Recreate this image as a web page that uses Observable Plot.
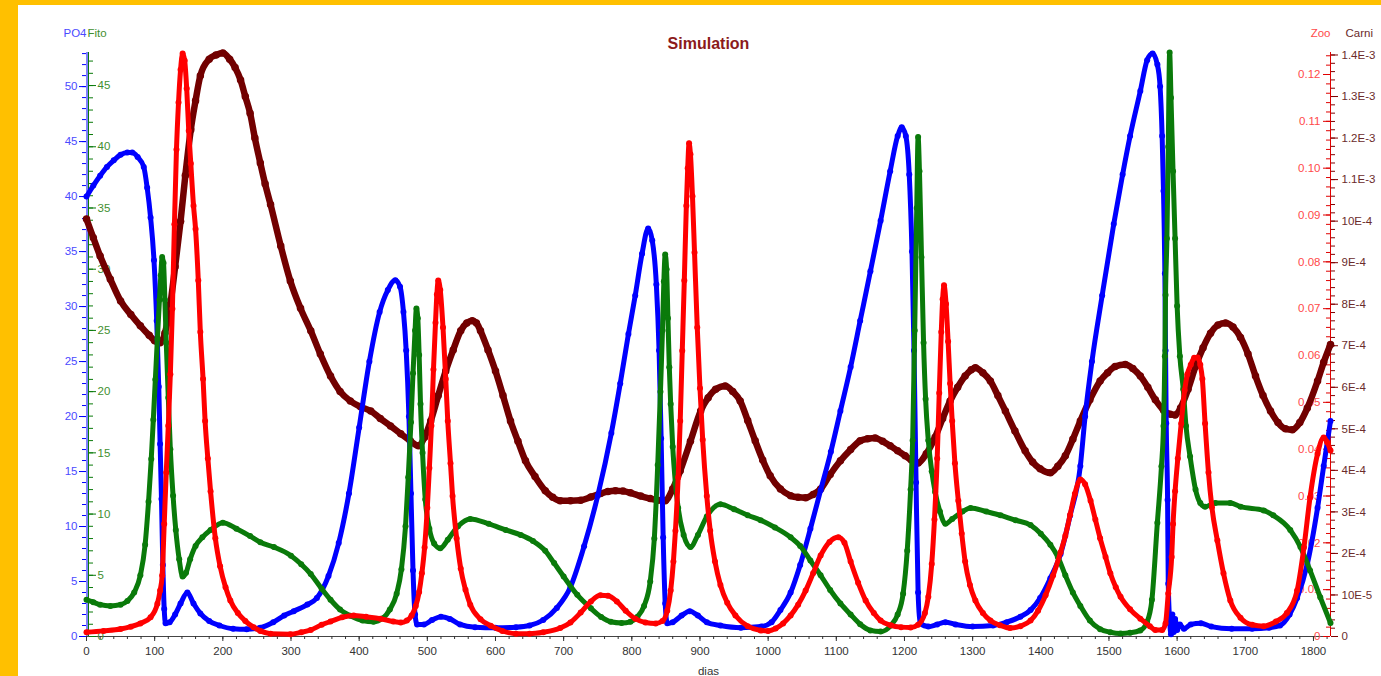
<!DOCTYPE html>
<html><head><meta charset="utf-8">
<script src="https://cdn.jsdelivr.net/npm/d3@7"></script>
<script src="https://cdn.jsdelivr.net/npm/@observablehq/plot@0.6"></script>
<style>
html,body{margin:0;padding:0;background:#FFC000;width:1381px;height:676px;overflow:hidden}
#panel{position:absolute;left:18px;top:5px;width:1363px;height:671px;background:#fff}
</style></head><body><div id="panel"></div>
<script>
// ---- data: [day, value] ----
const po4 = [[0,40.0],[10,41.0],[20,41.9],[30,42.7],[40,43.3],[50,43.8],[60,44.0],[67,44.0],[75,43.6],[84,42.7],[89,40.8],[94,38.1],[99,34.2],[103,28.7],[106,22.7],[108,17.5],[110,12.5],[112,6.5],[114,2.5],[116,1.2],[122,1.3],[130,2.0],[138,3.0],[148,4.0],[157,3.0],[167,2.1],[180,1.4],[195,1.0],[215,0.7],[235,0.65],[255,0.8],[274,1.3],[290,1.9],[304,2.3],[324,2.9],[338,3.5],[355,5.5],[370,8.5],[385,13],[400,19],[415,25],[430,29.5],[442,31.5],[453,32.4],[460,31.8],[465,29.5],[469,26],[473,20],[476,13],[479,6],[482,2],[485,1.1],[495,1.1],[507,1.5],[520,1.8],[533,1.6],[548,1.1],[570,0.85],[600,0.8],[630,0.85],[650,1.0],[670,1.5],[690,2.6],[710,4.5],[730,8.2],[750,12.8],[770,18.5],[783,23],[795,27.5],[805,31],[815,34.8],[824,37.1],[830,36],[836,32],[840,26],[843,18],[846,9],[849,3],[852,1.2],[860,1.3],[873,1.9],[885,2.3],[897,1.9],[910,1.3],[930,1.0],[960,0.8],[990,0.9],[1005,1.3],[1018,2.4],[1033,4.0],[1047,6.5],[1062,9.8],[1077,13.3],[1092,16.8],[1106,20.5],[1121,24.5],[1135,28.7],[1150,33.2],[1165,37.8],[1179,42.3],[1190,45.5],[1196,46.3],[1202,45.5],[1207,42],[1211,35],[1214,26],[1217,14],[1220,4],[1223,1.2],[1235,0.9],[1248,1.1],[1260,1.3],[1275,1.1],[1300,0.9],[1330,1.0],[1350,1.3],[1370,1.8],[1385,2.4],[1399,3.5],[1414,5.3],[1429,7.5],[1443,11.0],[1458,15.5],[1465,20.0],[1475,25.0],[1490,31.0],[1507,37.5],[1520,42.0],[1531,45.5],[1546,49.6],[1556,52.4],[1564,53.0],[1571,52.0],[1575,50.0],[1578,45.5],[1580,40.5],[1582,33],[1583,26],[1584,19.4],[1586,12.4],[1587,4.8],[1589,1.5],[1591,0.2],[1593,2.0],[1595,0.4],[1597,1.6],[1600,0.6],[1604,1.1],[1610,0.7],[1620,1.1],[1635,1.2],[1650,0.9],[1680,0.7],[1710,0.7],[1735,0.8],[1751,1.0],[1765,2.0],[1776,3.5],[1791,6.6],[1806,11.7],[1815,15.5],[1825,19.6]];

const fito = [[0,3.0],[10,2.8],[20,2.6],[35,2.5],[50,2.6],[60,2.9],[70,3.6],[79,5.0],[86,7.5],[91,11],[95,14.5],[98,17.7],[101,21],[104,24.3],[107,27.5],[109,29.5],[111,31.0],[113,30.5],[115,27.5],[117,24],[120,19.5],[123,15.3],[127,11.5],[131,8.7],[136,6.3],[141,4.9],[146,5.2],[152,6.3],[160,7.4],[170,8.1],[182,8.7],[200,9.3],[220,8.8],[240,8.2],[255,7.7],[275,7.3],[300,6.6],[315,5.9],[329,5.1],[345,3.9],[358,3.0],[372,2.2],[387,1.7],[405,1.3],[421,1.2],[435,1.5],[445,2.2],[455,3.5],[462,5.5],[468,9],[472,13],[476,17.5],[479,21.5],[482,25],[484,26.8],[486,26],[488,23],[490,19],[493,15],[497,11.2],[503,8.8],[510,7.6],[519,7.2],[530,7.9],[545,9.0],[563,9.6],[590,9.2],[615,8.7],[637,8.3],[655,7.8],[673,7.0],[686,6.0],[700,4.9],[720,3.4],[740,2.3],[755,1.6],[769,1.2],[785,1.1],[798,1.2],[808,1.6],[818,2.5],[827,4.5],[833,8],[838,14],[842,20],[845,25],[847,29],[849,31.2],[851,30],[853,26],[855,22],[857,19],[860,15.5],[864,12.5],[868,10.5],[876,8.3],[886,7.3],[897,8.3],[910,9.8],[930,10.8],[950,10.4],[970,9.9],[989,9.5],[1010,8.9],[1033,8.1],[1047,7.4],[1062,6.2],[1077,5.0],[1091,3.8],[1106,2.7],[1121,1.8],[1135,1.0],[1150,0.5],[1165,0.4],[1180,0.9],[1190,1.8],[1198,3.5],[1204,7],[1209,12],[1212,16],[1215,25],[1218,35],[1220,40.8],[1222,38],[1225,31],[1228,24],[1231,19.4],[1235,16],[1240,13.5],[1245,11.8],[1252,10.2],[1260,9.2],[1270,9.6],[1285,10.2],[1297,10.5],[1320,10.2],[1341,9.9],[1363,9.5],[1385,9.1],[1400,8.4],[1414,7.5],[1425,6.5],[1436,5.0],[1447,3.6],[1458,2.5],[1472,1.3],[1487,0.6],[1502,0.35],[1517,0.25],[1531,0.3],[1546,0.5],[1556,1.2],[1563,3.0],[1571,9.3],[1577,13.9],[1580,17.2],[1582,22.9],[1583,27.9],[1585,32.5],[1587,40],[1589,47.7],[1591,44],[1594,38],[1597,32.5],[1600,27],[1604,22.9],[1609,20.2],[1613,17.2],[1619,14.7],[1627,12.0],[1634,10.9],[1641,10.6],[1656,10.9],[1678,10.9],[1693,10.6],[1727,10.3],[1741,9.9],[1766,8.7],[1781,7.3],[1795,5.4],[1810,3.2],[1825,1.1]];

const zoo = [[0,0.0009],[25,0.0012],[50,0.0016],[65,0.0021],[79,0.0028],[94,0.0041],[104,0.007],[108,0.0098],[111,0.013],[114,0.024],[117,0.035],[120,0.045],[123,0.056],[126,0.07],[129,0.088],[132,0.104],[135,0.114],[138,0.121],[141,0.1245],[144,0.123],[147,0.117],[150,0.108],[153,0.101],[157,0.092],[160,0.087],[164,0.076],[167,0.065],[171,0.055],[174,0.046],[178,0.038],[182,0.031],[189,0.021],[196,0.015],[204,0.0105],[211,0.0077],[222,0.005],[233,0.0033],[245,0.002],[255,0.0012],[270,0.0006],[299,0.0005],[315,0.0009],[329,0.0014],[345,0.0025],[358,0.0032],[375,0.0041],[392,0.0045],[410,0.0042],[431,0.0038],[450,0.0032],[461,0.003],[470,0.0034],[477,0.0045],[483,0.0065],[488,0.0095],[492,0.0135],[496,0.019],[500,0.0275],[503,0.036],[506,0.045],[509,0.057],[512,0.067],[514,0.073],[516,0.076],[519,0.074],[523,0.066],[527,0.055],[530,0.046],[534,0.037],[537,0.03],[543,0.021],[549,0.0145],[556,0.01],[563,0.0068],[578,0.0037],[593,0.0023],[610,0.0012],[630,0.0006],[650,0.0006],[670,0.0009],[695,0.0018],[710,0.003],[725,0.0051],[740,0.0075],[754,0.0088],[765,0.0087],[778,0.0075],[791,0.0055],[805,0.0038],[820,0.003],[835,0.0028],[845,0.0033],[852,0.0055],[857,0.0098],[861,0.016],[864,0.0226],[868,0.034],[871,0.046],[874,0.061],[877,0.076],[880,0.092],[882,0.1],[884,0.1053],[886,0.103],[889,0.094],[892,0.082],[896,0.066],[900,0.053],[904,0.042],[910,0.03],[915,0.0226],[922,0.016],[930,0.011],[940,0.0072],[952,0.0045],[970,0.0022],[989,0.0013],[1000,0.0012],[1011,0.0017],[1022,0.0028],[1033,0.0045],[1044,0.0068],[1055,0.0098],[1066,0.0135],[1077,0.0173],[1090,0.0202],[1103,0.0212],[1112,0.02],[1121,0.016],[1132,0.0115],[1143,0.0077],[1155,0.005],[1165,0.0034],[1180,0.0024],[1195,0.002],[1209,0.0019],[1220,0.0025],[1230,0.005],[1235,0.0085],[1240,0.0155],[1244,0.025],[1248,0.038],[1251,0.052],[1254,0.065],[1256,0.072],[1258,0.075],[1261,0.071],[1264,0.063],[1267,0.054],[1270,0.046],[1274,0.037],[1279,0.029],[1284,0.022],[1289,0.016],[1296,0.011],[1304,0.0077],[1315,0.005],[1326,0.0034],[1340,0.0024],[1355,0.0018],[1370,0.0022],[1385,0.0034],[1396,0.0055],[1407,0.0088],[1418,0.013],[1429,0.018],[1436,0.0215],[1443,0.026],[1450,0.0305],[1458,0.0335],[1465,0.0325],[1473,0.029],[1480,0.025],[1487,0.021],[1495,0.017],[1502,0.0135],[1510,0.0105],[1517,0.0085],[1531,0.0058],[1546,0.0038],[1560,0.0022],[1568,0.0014],[1578,0.0014],[1583,0.0028],[1587,0.0092],[1592,0.017],[1594,0.024],[1597,0.031],[1601,0.038],[1606,0.0455],[1611,0.0526],[1615,0.056],[1620,0.058],[1625,0.0595],[1630,0.0596],[1634,0.058],[1637,0.055],[1641,0.0455],[1646,0.035],[1651,0.0276],[1659,0.0205],[1668,0.0135],[1678,0.0077],[1693,0.004],[1710,0.0025],[1727,0.0022],[1745,0.0032],[1761,0.005],[1776,0.0098],[1786,0.019],[1795,0.0297],[1806,0.039],[1815,0.0425],[1820,0.0415],[1825,0.0397]];

const carni = [[0,10.05e-4],[10,9.6e-4],[20,9.16e-4],[35,8.6e-4],[50,8.08e-4],[65,7.75e-4],[79,7.48e-4],[92,7.25e-4],[100,7.12e-4],[108,7.07e-4],[115,7.3e-4],[123,8.0e-4],[130,8.9e-4],[138,10.0e-4],[145,11.1e-4],[153,12.2e-4],[160,12.9e-4],[167,13.5e-4],[180,13.9e-4],[190,14.0e-4],[200,14.05e-4],[210,13.9e-4],[218,13.7e-4],[226,13.4e-4],[233,13.0e-4],[240,12.6e-4],[247,12.0e-4],[255,11.4e-4],[262,10.9e-4],[270,10.4e-4],[285,9.4e-4],[299,8.56e-4],[314,7.9e-4],[329,7.36e-4],[343,6.8e-4],[358,6.27e-4],[372,5.9e-4],[387,5.67e-4],[402,5.53e-4],[417,5.43e-4],[431,5.25e-4],[446,5.07e-4],[461,4.88e-4],[475,4.71e-4],[487,4.59e-4],[496,4.8e-4],[505,5.19e-4],[516,5.8e-4],[527,6.39e-4],[538,6.9e-4],[549,7.36e-4],[558,7.55e-4],[566,7.6e-4],[572,7.55e-4],[578,7.36e-4],[589,6.9e-4],[600,6.39e-4],[611,5.8e-4],[622,5.19e-4],[633,4.7e-4],[644,4.23e-4],[658,3.85e-4],[673,3.51e-4],[684,3.35e-4],[695,3.27e-4],[710,3.27e-4],[725,3.28e-4],[740,3.36e-4],[754,3.44e-4],[765,3.49e-4],[776,3.51e-4],[787,3.5e-4],[798,3.46e-4],[813,3.38e-4],[827,3.32e-4],[838,3.28e-4],[849,3.27e-4],[860,3.55e-4],[871,3.99e-4],[886,4.7e-4],[901,5.43e-4],[912,5.75e-4],[923,5.95e-4],[937,6.03e-4],[948,5.9e-4],[959,5.67e-4],[970,5.2e-4],[981,4.71e-4],[992,4.25e-4],[1003,3.87e-4],[1018,3.55e-4],[1033,3.39e-4],[1044,3.35e-4],[1055,3.34e-4],[1066,3.42e-4],[1077,3.55e-4],[1091,3.9e-4],[1106,4.23e-4],[1121,4.5e-4],[1135,4.71e-4],[1146,4.76e-4],[1157,4.78e-4],[1168,4.7e-4],[1179,4.59e-4],[1190,4.47e-4],[1201,4.35e-4],[1210,4.25e-4],[1220,4.18e-4],[1232,4.4e-4],[1245,4.8e-4],[1256,5.25e-4],[1267,5.67e-4],[1278,6.0e-4],[1289,6.27e-4],[1298,6.42e-4],[1304,6.47e-4],[1315,6.35e-4],[1326,6.15e-4],[1337,5.8e-4],[1348,5.43e-4],[1362,4.95e-4],[1377,4.47e-4],[1388,4.2e-4],[1399,4.04e-4],[1414,3.94e-4],[1425,4.1e-4],[1436,4.35e-4],[1447,4.75e-4],[1458,5.19e-4],[1472,5.7e-4],[1487,6.15e-4],[1498,6.35e-4],[1509,6.5e-4],[1524,6.55e-4],[1535,6.45e-4],[1546,6.27e-4],[1557,6.0e-4],[1568,5.7e-4],[1580,5.45e-4],[1590,5.35e-4],[1597,5.33e-4],[1605,5.5e-4],[1616,5.95e-4],[1627,6.5e-4],[1638,6.95e-4],[1649,7.3e-4],[1660,7.5e-4],[1671,7.55e-4],[1682,7.45e-4],[1693,7.2e-4],[1704,6.8e-4],[1715,6.27e-4],[1726,5.8e-4],[1737,5.43e-4],[1748,5.15e-4],[1759,5.0e-4],[1769,4.98e-4],[1780,5.15e-4],[1791,5.5e-4],[1806,6.15e-4],[1815,6.6e-4],[1825,7.03e-4]];

// ---- axes ----
const dayDomain = [0, 1825];
const dayTicks = [0,100,200,300,400,500,600,700,800,900,1000,1100,1200,1300,1400,1500,1600,1700,1800];
const po4Ticks = [0,5,10,15,20,25,30,35,40,45,50];
const fitoTicks = [0,5,10,15,20,25,30,35,40,45];
const zooTicks = [0,0.01,0.02,0.03,0.04,0.05,0.06,0.07,0.08,0.09,0.10,0.11,0.12];
const zooLabels = ["0","0.01","0.02","0.03","0.04","0.05","0.06","0.07","0.08","0.09","0.10","0.11","0.12"];
const carniTicks = [0,1e-4,2e-4,3e-4,4e-4,5e-4,6e-4,7e-4,8e-4,9e-4,10e-4,11e-4,12e-4,13e-4,14e-4];
const carniLabels = ["0","10E-5","2E-4","3E-4","4E-4","5E-4","6E-4","7E-4","8E-4","9E-4","10E-4","1.1E-3","1.2E-3","1.3E-3","1.4E-3"];

const PO4_MAX = 53.1, FITO_MAX = 47.7, ZOO_MAX = 0.1247, CARNI_MAX = 1.406e-3;

const W = 1363, H = 671, ML = 68, MR = 51, MT = 47, MB = 40;
const innerW = W - ML - MR;

function axisSpec(ticks, labels, max) {
  const norm = ticks.map(t => t / max);
  const m = new Map(norm.map((v, i) => [v, labels[i]]));
  return {norm, fmt: d => m.has(d) ? m.get(d) : ""};
}
const po4Ax = axisSpec(po4Ticks, po4Ticks.map(String), PO4_MAX);
const fitoAx = axisSpec(fitoTicks, fitoTicks.map(String), FITO_MAX);
const zooAx = axisSpec(zooTicks, zooLabels, ZOO_MAX);
const carniAx = axisSpec(carniTicks, carniLabels, CARNI_MAX);
const minor = (step, max) => d3.range(0, max + 1e-12, step).map(v => v / max);

const series = [
  {data: carni, max: CARNI_MAX, color: "#720000", w: 6.5},
  {data: po4, max: PO4_MAX, color: "#0000ff", w: 5},
  {data: fito, max: FITO_MAX, color: "#0a7a0a", w: 5},
  {data: zoo, max: ZOO_MAX, color: "#ff0000", w: 5}
];

const chart = Plot.plot({
  width: W, height: H,
  marginLeft: ML, marginRight: MR, marginTop: MT, marginBottom: MB,
  style: {fontFamily: "'Liberation Sans', Arial, sans-serif", fontSize: "11.5px", background: "white", overflow: "visible"},
  x: {domain: dayDomain},
  y: {domain: [0, 1]},
  marks: [
    // axis lines
    Plot.ruleY([0], {stroke: "#444"}),
    Plot.ruleX([0], {stroke: "#0000ff", dx: 0.5}),
    Plot.ruleX([0], {stroke: "#0a7a0a", dx: 2}),
    Plot.ruleX([dayDomain[1]], {stroke: "#e00000"}),
    // x axis
    Plot.axisX(dayTicks, {tickSize: 5, tickPadding: 5, tickFormat: d => String(d), color: "#333", fontSize: 11.5, label: null}),
    Plot.axisX(d3.range(0, 1825, 20), {tickSize: 3, tickFormat: () => "", color: "#333", label: null}),
    // PO4 (left, ticks out)
    Plot.axisY(po4Ax.norm, {anchor: "left", tickSize: 7, tickPadding: 2, tickFormat: po4Ax.fmt, stroke: "#0000ff", fill: "#4a4aff", label: null}),
    Plot.axisY(minor(1, PO4_MAX), {anchor: "left", tickSize: 4, tickFormat: () => "", stroke: "#0000ff", label: null}),
    // Fito (left, ticks in)
    Plot.axisY(fitoAx.norm, {anchor: "right", dx: -innerW + 2, tickSize: 7, tickPadding: 2, tickFormat: fitoAx.fmt, stroke: "#0a7a0a", fill: "#3f8f2f", label: null}),
    Plot.axisY(minor(1, FITO_MAX), {anchor: "right", dx: -innerW + 2, tickSize: 4, tickFormat: () => "", stroke: "#0a7a0a", label: null}),
    // Zoo (right, ticks to the left)
    Plot.axisY(zooAx.norm, {anchor: "left", dx: innerW, tickSize: 7, tickPadding: 3, tickFormat: zooAx.fmt, stroke: "#e00000", fill: "#ff4a4a", label: null}),
    Plot.axisY(minor(0.002, ZOO_MAX), {anchor: "left", dx: innerW, tickSize: 4, tickFormat: () => "", stroke: "#e00000", label: null}),
    // Carni (right, ticks to the right)
    Plot.axisY(carniAx.norm, {anchor: "right", tickSize: 7, tickPadding: 4, tickFormat: carniAx.fmt, stroke: "#800000", fill: "#6b2b2b", label: null}),
    Plot.axisY(minor(2e-5, CARNI_MAX), {anchor: "right", tickSize: 4, tickFormat: () => "", stroke: "#800000", label: null}),
    // series
    ...series.flatMap(s => [
      Plot.line(s.data, {x: d => d[0], y: d => d[1] / s.max, stroke: s.color, strokeWidth: s.w, curve: "monotone-x", strokeLinejoin: "round", strokeLinecap: "round"}),
      Plot.dot(s.data, {x: d => d[0], y: d => d[1] / s.max, r: s.w / 2 + 0.5, fill: s.color, stroke: "none"})
    ]),
    // titles
    Plot.text(["Simulation"], {frameAnchor: "top", dy: -15, fontWeight: "bold", fontSize: 16, fill: "#8b1a1a"}),
    Plot.text(["PO4"], {frameAnchor: "top-left", dy: -24, textAnchor: "end", fontSize: 11.5, fill: "#4a4aff"}),
    Plot.text(["Fito"], {frameAnchor: "top-left", dy: -24, dx: 1, textAnchor: "start", fontSize: 11.5, fill: "#3f8f2f"}),
    Plot.text(["Zoo"], {frameAnchor: "top-right", dy: -24, dx: 0, textAnchor: "end", fontSize: 11.5, fill: "#ff4a4a"}),
    Plot.text(["Carni"], {frameAnchor: "top-right", dy: -24, dx: 15, textAnchor: "start", fontSize: 11.5, fill: "#6b2b2b"}),
    Plot.text(["dias"], {frameAnchor: "bottom", dy: 38, fontSize: 11.5, fill: "#333"})
  ]
});
document.getElementById("panel").appendChild(chart);
</script></body></html>
